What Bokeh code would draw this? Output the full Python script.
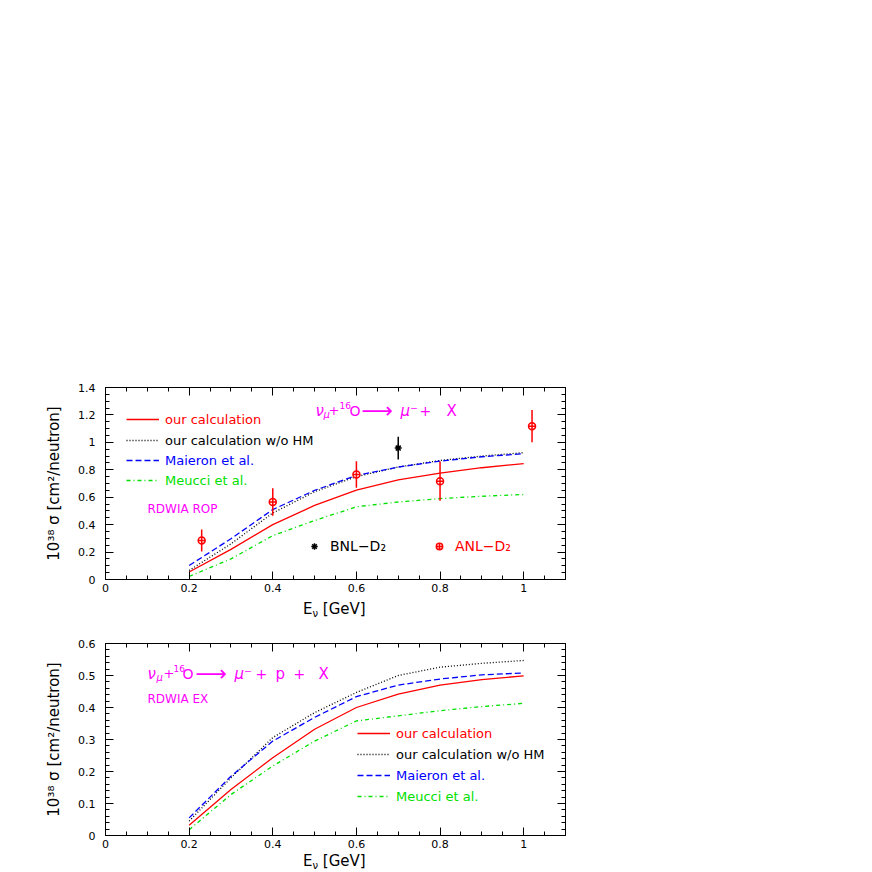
from bokeh.plotting import figure
from bokeh.layouts import column
from bokeh.models import (LinearAxis, Label, Legend, LegendItem, Range1d, Div,
                          FixedTicker, NumeralTickFormatter, CustomJSTickFormatter)
from bokeh.embed import file_html
from bokeh.resources import INLINE

# ---------------- data ----------------
E = [0.2, 0.3, 0.4, 0.5, 0.6, 0.7, 0.8, 0.9, 1.0]

# upper panel: nu_mu + 16O -> mu- + X  (RDWIA ROP)
top_ours = [0.055, 0.22, 0.40, 0.54, 0.652, 0.727, 0.775, 0.815, 0.845]
top_nohm = [0.066, 0.26, 0.485, 0.64, 0.75, 0.82, 0.868, 0.90, 0.925]
top_maieron = [0.102, 0.297, 0.51, 0.65, 0.758, 0.82, 0.863, 0.895, 0.917]
top_meucci = [0.022, 0.15, 0.32, 0.43, 0.53, 0.565, 0.59, 0.607, 0.62]

anl_E = [0.23, 0.40, 0.60, 0.80, 1.02]
anl_sig = [0.285, 0.565, 0.766, 0.717, 1.118]
anl_err = [0.08, 0.10, 0.097, 0.143, 0.118]

bnl_E = [0.70]
bnl_sig = [0.958]
bnl_err = [0.083]

# lower panel: nu_mu + 16O -> mu- + p + X  (RDWIA EX)
bot_ours = [0.032, 0.144, 0.243, 0.332, 0.40, 0.442, 0.470, 0.487, 0.499]
bot_nohm = [0.045, 0.18, 0.306, 0.384, 0.447, 0.50, 0.526, 0.538, 0.547]
bot_maieron = [0.055, 0.185, 0.295, 0.369, 0.434, 0.47, 0.489, 0.502, 0.508]
bot_meucci = [0.018, 0.128, 0.217, 0.295, 0.358, 0.374, 0.39, 0.403, 0.413]

legend_labels = ["our calculation", "our calculation w/o HM",
                 "Maieron et al.", "Meucci et al."]
x_ticks = [0, 0.2, 0.4, 0.6, 0.8, 1.0]
top_y_ticks = [0, 0.2, 0.4, 0.6, 0.8, 1.0, 1.2, 1.4]
bot_y_ticks = [0, 0.1, 0.2, 0.3, 0.4, 0.5, 0.6]

FONT = "DejaVu Sans"
RED = "#ff0000"
BLUE = "#0000ff"
GREEN = "#00e000"
MAG = "#ff00ff"
BLACK = "#000000"


def minors(ticks, n, extra=0):
    step = (ticks[1] - ticks[0]) / n
    out = []
    k = 0
    end = ticks[-1] + extra
    while ticks[0] + k * step <= end + 1e-9:
        out.append(round(ticks[0] + k * step, 6))
        k += 1
    return out


def make_fig(height, btop, bbottom, ymax, yticks, yminor_n):
    p = figure(width=575, height=height, x_range=Range1d(0, 1.1),
               y_range=Range1d(0, ymax), output_backend="svg",
               toolbar_location=None, min_border_left=105, min_border_right=10,
               min_border_top=btop, min_border_bottom=bbottom)
    p.xgrid.visible = False
    p.ygrid.visible = False
    p.outline_line_color = "black"
    p.outline_line_width = 1
    xt = FixedTicker(ticks=x_ticks, minor_ticks=minors(x_ticks, 4, 0.1))
    yt = FixedTicker(ticks=yticks, minor_ticks=minors(yticks, yminor_n))
    p.xaxis.ticker = xt
    p.yaxis.ticker = yt
    p.add_layout(LinearAxis(ticker=xt), "above")
    p.add_layout(LinearAxis(ticker=yt), "right")
    for ax in p.above + p.below + p.left + p.right:
        if not isinstance(ax, LinearAxis):
            continue
        ax.major_tick_in = 8
        ax.major_tick_out = 0
        ax.minor_tick_in = 4
        ax.minor_tick_out = 0
        ax.axis_line_color = "black"
        ax.major_tick_line_color = "black"
        ax.minor_tick_line_color = "black"
        ax.major_label_text_font = FONT
        ax.major_label_text_font_size = "11px"
        ax.major_label_text_color = "black"
        ax.formatter = NumeralTickFormatter(format="0.[0]")
    for ax in (p.above[-1], p.right[-1]):
        ax.formatter = CustomJSTickFormatter(code="return ''")
        ax.major_label_standoff = 0
    p.below[0].major_label_standoff = 4
    lax = p.left[0]
    lax.major_label_standoff = 10
    lax.axis_label = "10³⁸ σ [cm²/neutron]"
    lax.axis_label_text_font = FONT
    lax.axis_label_text_font_size = "15px"
    lax.axis_label_text_font_style = "normal"
    lax.axis_label_text_color = "black"
    lax.axis_label_standoff = 12
    return p


def lab(p, text, x, y, size, color, style="normal"):
    p.add_layout(Label(x=x, y=y, x_units="screen", y_units="screen", text=text,
                       text_font=FONT, text_font_size=size, text_color=color,
                       text_font_style=style, text_align="left",
                       text_baseline="middle"))


def leg(p, rend, text, color, x, y, gw=33, fs="13px"):
    L = Legend(items=[LegendItem(label=text, renderers=[rend])], location=(x, y),
               label_text_font=FONT, label_text_font_size=fs,
               label_text_color=color, border_line_alpha=0,
               background_fill_alpha=0, padding=0, spacing=0, margin=0,
               glyph_width=gw, glyph_height=16, label_height=16,
               label_standoff=6)
    p.add_layout(L)


def curves(p, ours, nohm, mai, meu):
    r1 = p.line(E, ours, line_color=RED, line_width=1.3)
    r2 = p.line(E, nohm, line_color=BLACK, line_width=1.3, line_dash="1 2")
    r3 = p.line(E, mai, line_color=BLUE, line_width=1.3, line_dash="6 3")
    r4 = p.line(E, meu, line_color=GREEN, line_width=1.3, line_dash="4 3 1 3")
    return [r1, r2, r3, r4]


def xlabel_div(height, pad_top):
    html = ('<div style="padding-left:303px; padding-top:%dpx; '
            'font-family:\'DejaVu Sans\'; font-size:15px; line-height:17px; '
            'color:black; white-space:nowrap;">E<span style="font-size:10px; '
            'position:relative; top:3px;">ν</span> [GeV]</div>' % pad_top)
    return Div(text=html, width=575, height=height, margin=0)


# ---------------- top panel ----------------
p1 = make_fig(599, 387, 20, 1.4, top_y_ticks, 4)
rs = curves(p1, top_ours, top_nohm, top_maieron, top_meucci)

anl_lo = [s - e for s, e in zip(anl_sig, anl_err)]
anl_hi = [s + e for s, e in zip(anl_sig, anl_err)]
bnl_lo = [s - e for s, e in zip(bnl_sig, bnl_err)]
bnl_hi = [s + e for s, e in zip(bnl_sig, bnl_err)]
p1.segment(x0=anl_E, y0=anl_lo, x1=anl_E, y1=anl_hi, line_color=RED, line_width=1.5)
p1.segment(x0=bnl_E, y0=bnl_lo, x1=bnl_E, y1=bnl_hi, line_color=BLACK, line_width=1.5)
r_anl = p1.scatter(anl_E, anl_sig, marker="circle_cross", size=7, line_color=RED,
                   fill_color="white", line_width=1.5)
r_bnl = p1.scatter(bnl_E, bnl_sig, marker="asterisk", size=7, line_color=BLACK,
                   line_width=1.5)

cols = [RED, BLACK, BLUE, GREEN]
for r, t, c, yy in zip(rs, legend_labels, cols, [152, 131, 111, 91]):
    leg(p1, r, t, c, 21, yy)
leg(p1, r_bnl, "BNL−D₂", BLACK, 199, 25, gw=20, fs="14px")
leg(p1, r_anl, "ANL−D₂", RED, 324, 25, gw=20, fs="14px")

lab(p1, "RDWIA ROP", 42, 71, "12px", MAG)
# title: nu_mu + 16O -> mu- + X
ty = 169
lab(p1, "ν", 210, ty, "15px", MAG, "italic")
lab(p1, "μ", 218, ty - 4, "10px", MAG, "italic")
lab(p1, "+", 223, ty, "13px", MAG)
lab(p1, "16", 234, ty + 5, "9px", MAG)
lab(p1, "O", 244, ty, "14px", MAG)
lab(p1, "⟶", 256, ty, "22px", MAG)
lab(p1, "μ⁻", 295, ty, "15px", MAG, "italic")
lab(p1, "+", 314, ty, "14px", MAG)
lab(p1, "X", 341, ty, "15px", MAG)

d1 = xlabel_div(23, 2)

# ---------------- bottom panel ----------------
p2 = make_fig(231, 21, 18, 0.6, bot_y_ticks, 5)
rs2 = curves(p2, bot_ours, bot_nohm, bot_maieron, bot_meucci)
for r, t, c, yy in zip(rs2, legend_labels, cols, [94, 73, 52, 31]):
    leg(p2, r, t, c, 252, yy)

lab(p2, "RDWIA EX", 42, 137, "12px", MAG)
by = 162
lab(p2, "ν", 42, by, "15px", MAG, "italic")
lab(p2, "μ", 51, by - 4, "10px", MAG, "italic")
lab(p2, "+", 58, by, "13px", MAG)
lab(p2, "16", 68, by + 5, "9px", MAG)
lab(p2, "O", 77, by, "14px", MAG)
lab(p2, "⟶", 90, by, "22px", MAG)
lab(p2, "μ⁻", 129, by, "15px", MAG, "italic")
lab(p2, "+", 150, by, "14px", MAG)
lab(p2, "p", 170, by, "15px", MAG)
lab(p2, "+", 188, by, "14px", MAG)
lab(p2, "X", 213, by, "15px", MAG)

d2 = xlabel_div(19, 0)

layout = column(p1, d1, p2, d2, spacing=0)
open("out.html", "w").write(file_html(layout, INLINE))
